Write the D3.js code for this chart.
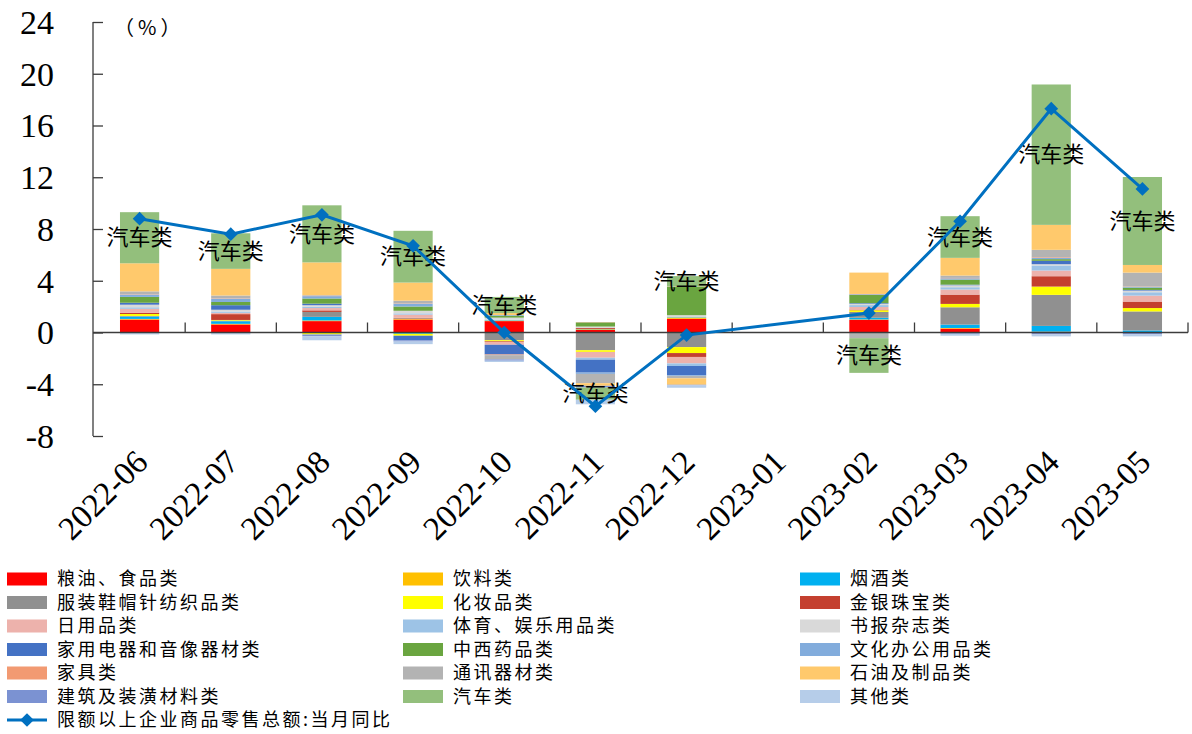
<!DOCTYPE html>
<html>
<head>
<meta charset="utf-8">
<script src="https://cdn.jsdelivr.net/npm/d3@7"></script>
<style>
  html, body { margin: 0; padding: 0; background: #ffffff; }
  svg { display: block; }
</style>
</head>
<body>
<svg id="chart" width="1192" height="734"></svg>
<script>
// Months on the category axis (2023-01 has no published figures)
const months = ["2022-06", "2022-07", "2022-08", "2022-09", "2022-10", "2022-11",
                "2022-12", "2023-01", "2023-02", "2023-03", "2023-04", "2023-05"];

// Contribution of each retail category to the monthly growth (percentage points)
const grainOil    = [1.00, 0.62, 0.88, 1.00, 0.88, 0.20, 1.06, null, 0.98, 0.30, 0.05, 0.00];
const beverage    = [0.05, 0.05, 0.05, 0.05, 0.04, 0.05, 0.10, null, 0.03, 0.05, 0.02, 0.03];
const tobacco     = [0.18, 0.20, 0.28, -0.10, 0.03, 0.03, 0.03, null, 0.13, 0.26, 0.44, 0.13];
const apparel     = [0.05, 0.05, 0.38, 0.05, -0.60, -1.37, -1.13, null, 0.45, 1.34, 2.40, 1.47];
const cosmetics   = [0.15, 0.05, -0.15, -0.15, -0.08, -0.13, -0.46, null, 0.13, 0.26, 0.64, 0.26];
const jewelry     = [0.10, 0.45, 0.12, 0.03, -0.05, 0.08, -0.30, null, 0.05, 0.72, 0.80, 0.50];
const dailyUse    = [0.30, 0.10, 0.18, 0.25, -0.22, -0.45, -0.50, null, 0.20, 0.39, 0.44, 0.46];
const sports      = [0.12, 0.10, 0.10, 0.10, 0.05, -0.15, -0.20, null, 0.15, 0.18, 0.39, 0.26];
const books       = [0.20, 0.14, 0.12, 0.20, 0.15, 0.10, 0.15, null, 0.10, 0.15, 0.10, 0.13];
const appliances  = [0.15, 0.35, 0.12, -0.35, -0.75, -1.00, -0.72, null, 0.05, 0.05, 0.26, 0.05];
const medicine    = [0.45, 0.25, 0.40, 0.33, 0.15, 0.32, 2.20, null, 0.64, 0.39, 0.13, 0.18];
const office      = [0.18, 0.25, 0.18, 0.22, 0.05, -0.10, -0.05, null, 0.05, 0.10, 0.10, 0.05];
const furniture   = [0.03, 0.03, 0.03, 0.03, -0.05, 0.02, 0.02, null, 0.02, 0.03, 0.05, 0.03];
const telecom     = [0.22, 0.22, 0.05, 0.20, -0.33, -0.72, -0.18, null, -0.44, 0.18, 0.57, 1.08];
const petroleum   = [2.17, 2.06, 2.53, 1.40, 0.15, -0.20, -0.50, null, 1.65, 1.37, 1.93, 0.59];
const building    = [-0.05, -0.05, -0.15, -0.10, -0.10, -0.13, -0.05, null, 0.00, -0.10, -0.15, -0.15];
const autos       = [3.95, 2.75, 4.41, 4.00, 1.25, -0.95, 0.80, null, -2.68, 3.22, 10.85, 6.80];
const others      = [-0.10, -0.10, -0.30, -0.20, -0.10, -0.35, -0.18, null, 0.00, -0.15, -0.15, -0.15];

// Year-on-year growth of retail sales of enterprises above designated size (%)
const totalGrowth = [8.8, 7.6, 9.1, 6.7, 0.0, -5.7, -0.2, null, 1.5, 8.6, 17.3, 11.1];

const seriesNames = ["粮油、食品类", "饮料类", "烟酒类", "服装鞋帽针纺织品类", "化妆品类", "金银珠宝类",
                     "日用品类", "体育、娱乐用品类", "书报杂志类", "家用电器和音像器材类", "中西药品类", "文化办公用品类",
                     "家具类", "通讯器材类", "石油及制品类", "建筑及装潢材料类", "汽车类", "其他类"];
const seriesValues = [grainOil, beverage, tobacco, apparel, cosmetics, jewelry,
                      dailyUse, sports, books, appliances, medicine, office,
                      furniture, telecom, petroleum, building, autos, others];
const seriesColors = ["#FF0000", "#FFC000", "#00B0F0", "#909090", "#FFFF00", "#C4402F",
                      "#EDB2AC", "#9DC3E6", "#D9D9D9", "#4472C4", "#6AA540", "#82ACDC",
                      "#F29A72", "#B3B3B3", "#FFC96C", "#7B92D2", "#93BF7C", "#B6CDE9"];
const lineName = "限额以上企业商品零售总额:当月同比";
const yTicks = [-8, -4, 0, 4, 8, 12, 16, 20, 24];

const svg = d3.select("#chart");
const plot = { left: 94, right: 1188, top: 22, bottom: 436 };
const serif = "'Liberation Serif', 'Times New Roman', serif";
const cjk = "'Noto Sans CJK SC', sans-serif";

const x = d3.scaleBand()
  .domain(months)
  .range([plot.left, plot.right])
  .paddingInner(0.57)
  .paddingOuter(0.285);

const y = d3.scaleLinear()
  .domain([-8, 24])
  .range([plot.bottom, plot.top]);

// Table of rows for the diverging stack
const rows = months.map((m, i) => {
  const r = { month: m };
  seriesNames.forEach((name, k) => { r[name] = seriesValues[k][i] == null ? 0 : seriesValues[k][i]; });
  return r;
});

const stacked = d3.stack()
  .keys(seriesNames)
  .offset(d3.stackOffsetDiverging)(rows);

// Stacked bars
const barLayer = svg.append("g");
stacked.forEach((layer, k) => {
  barLayer.append("g")
    .attr("fill", seriesColors[k])
    .selectAll("rect")
    .data(layer.filter(d => d[1] !== d[0]))
    .join("rect")
      .attr("x", d => x(d.data.month))
      .attr("width", x.bandwidth())
      .attr("y", d => y(Math.max(d[0], d[1])))
      .attr("height", d => Math.abs(y(d[0]) - y(d[1])));
});

// Axes
const axisColor = "#3c3c3c";
svg.append("line")
  .attr("x1", plot.left - 1).attr("x2", plot.left - 1)
  .attr("y1", y(24)).attr("y2", y(-8))
  .attr("stroke", axisColor).attr("stroke-width", 1.3);

const yAxis = svg.append("g")
  .attr("transform", `translate(${plot.left - 1},0)`)
  .call(d3.axisRight(y).tickValues(yTicks).tickSize(10).tickFormat(""));
yAxis.select(".domain").remove();
yAxis.selectAll("line").attr("stroke", axisColor).attr("stroke-width", 1.3);

svg.append("g")
  .selectAll("text")
  .data(yTicks)
  .join("text")
    .attr("x", 54)
    .attr("y", d => y(d))
    .attr("dy", "0.35em")
    .attr("text-anchor", "end")
    .attr("font-family", serif)
    .attr("font-size", 34)
    .attr("fill", "#000")
    .text(d => d);

// Category axis along the zero line, ticks between categories
svg.append("line")
  .attr("x1", plot.left - 1).attr("x2", plot.right)
  .attr("y1", y(0)).attr("y2", y(0))
  .attr("stroke", axisColor).attr("stroke-width", 1.3);

const boundaries = months.slice(1).map(m => x(m) - x.step() * x.paddingInner() / 2);
svg.append("g")
  .selectAll("line")
  .data(boundaries.concat([plot.right]))
  .join("line")
    .attr("x1", d => d).attr("x2", d => d)
    .attr("y1", y(0) - 10).attr("y2", y(0))
    .attr("stroke", axisColor).attr("stroke-width", 1.3);

svg.append("g")
  .selectAll("text")
  .data(months)
  .join("text")
    .attr("transform", d => `translate(${x(d) + x.bandwidth() / 2 + 10},${plot.bottom + 28}) rotate(-45)`)
    .attr("text-anchor", "end")
    .attr("font-family", serif)
    .attr("font-size", 33)
    .attr("fill", "#000")
    .text(d => d);

// Unit label
svg.append("text")
  .attr("x", 114).attr("y", 35)
  .attr("font-family", cjk)
  .attr("font-size", 20)
  .attr("letter-spacing", 4)
  .attr("fill", "#000")
  .text("（%）");

// Series-name labels centred on the auto segment
const autoIdx = seriesNames.indexOf("汽车类");
svg.append("g")
  .selectAll("text")
  .data(stacked[autoIdx].filter(d => d[1] !== d[0]))
  .join("text")
    .attr("x", d => x(d.data.month) + x.bandwidth() / 2)
    .attr("y", d => y((d[0] + d[1]) / 2))
    .attr("dy", "0.35em")
    .attr("text-anchor", "middle")
    .attr("font-family", cjk)
    .attr("font-size", 22)
    .attr("fill", "#000")
    .text("汽车类");

// Total growth line (empty month is bridged)
const linePts = months.map((m, i) => ({ month: m, v: totalGrowth[i] })).filter(d => d.v != null);
const lineColor = "#0070C0";
svg.append("path")
  .datum(linePts)
  .attr("fill", "none")
  .attr("stroke", lineColor)
  .attr("stroke-width", 3)
  .attr("d", d3.line().x(d => x(d.month) + x.bandwidth() / 2).y(d => y(d.v)));

const diamond = d3.symbol().type(d3.symbolDiamond2).size(120);
svg.append("g")
  .selectAll("path")
  .data(linePts)
  .join("path")
    .attr("transform", d => `translate(${x(d.month) + x.bandwidth() / 2},${y(d.v)})`)
    .attr("d", diamond)
    .attr("fill", lineColor);

// Legend: three columns, row-major order
const legendCols = [7, 403, 800];
const legendTop = 579;
const legendStep = 23.5;
const legendFont = 18;
const legend = svg.append("g");
seriesNames.forEach((name, k) => {
  const cx = legendCols[k % 3];
  const cy = legendTop + Math.floor(k / 3) * legendStep;
  legend.append("rect")
    .attr("x", cx).attr("y", cy - 6.5)
    .attr("width", 40).attr("height", 13)
    .attr("fill", seriesColors[k]);
  legend.append("text")
    .attr("x", cx + 50).attr("y", cy)
    .attr("dy", "0.35em")
    .attr("font-family", cjk)
    .attr("font-size", legendFont)
    .attr("letter-spacing", 2.5)
    .attr("fill", "#000")
    .text(name);
});
const lineRowY = legendTop + 6 * legendStep;
legend.append("line")
  .attr("x1", 7).attr("x2", 47)
  .attr("y1", lineRowY).attr("y2", lineRowY)
  .attr("stroke", lineColor).attr("stroke-width", 3);
legend.append("path")
  .attr("transform", `translate(27,${lineRowY})`)
  .attr("d", diamond)
  .attr("fill", lineColor);
legend.append("text")
  .attr("x", 57).attr("y", lineRowY)
  .attr("dy", "0.35em")
  .attr("font-family", cjk)
  .attr("font-size", legendFont)
  .attr("letter-spacing", 2.5)
  .attr("fill", "#000")
  .text(lineName);
</script>
</body>
</html>
